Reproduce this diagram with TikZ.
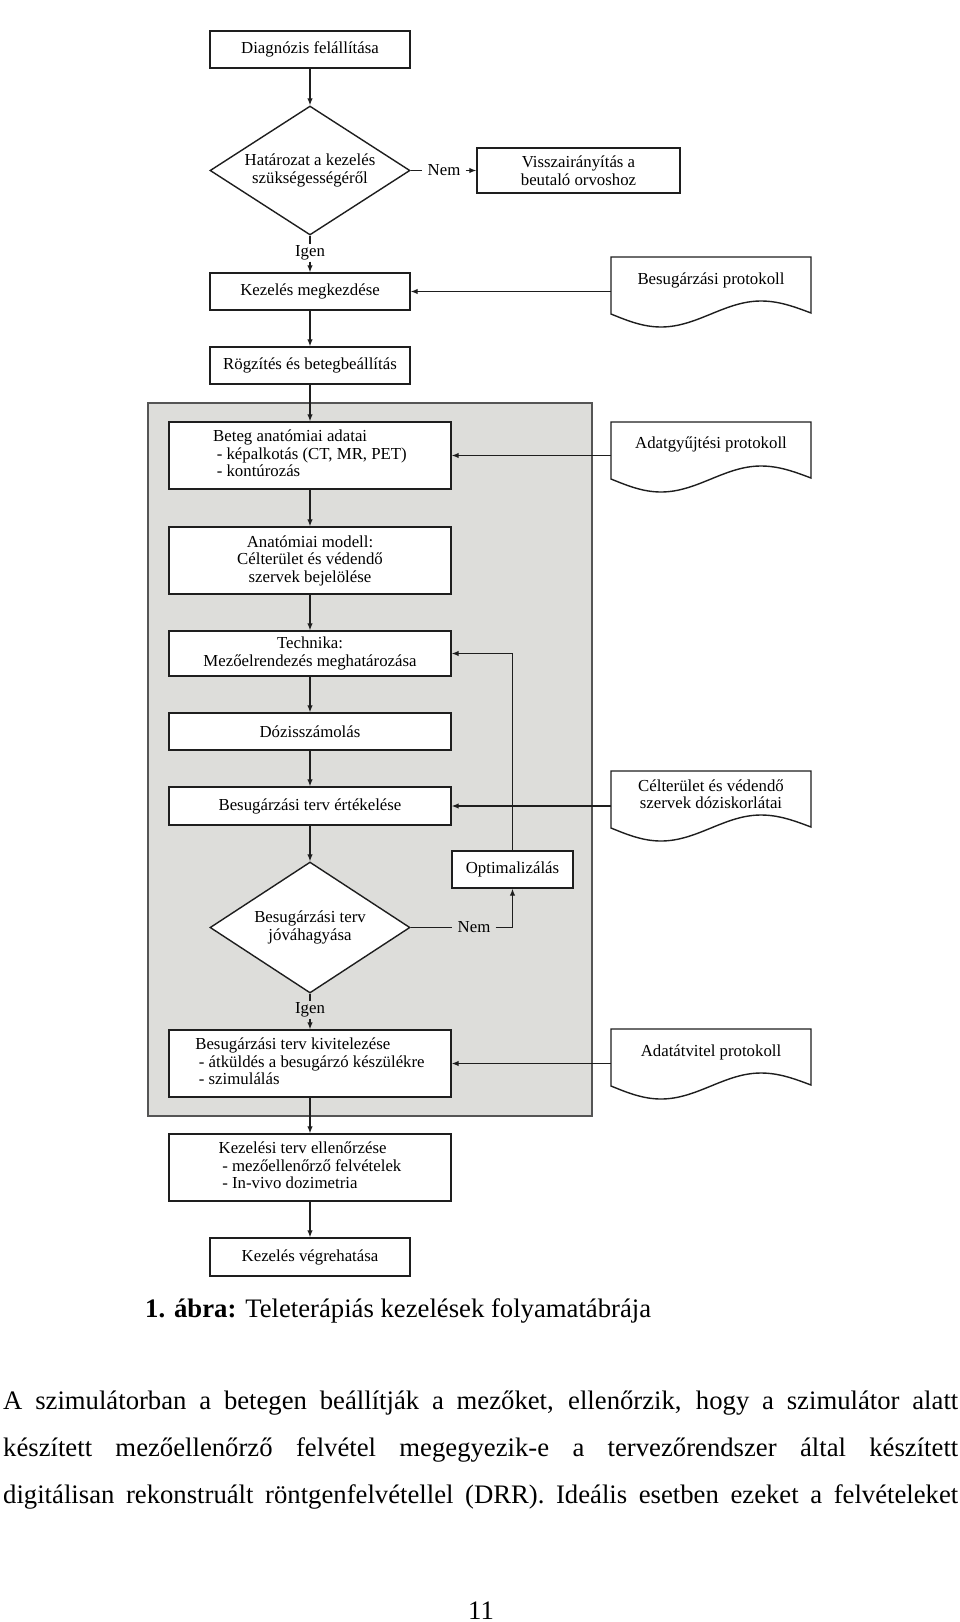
\documentclass[tikz,border=0pt]{standalone}
\usepackage{fontspec}
\setmainfont{Liberation Serif}
\usetikzlibrary{arrows.meta,shapes.geometric}
\newcommand\fcfont{\fontsize{16.8}{17.5}\selectfont}
\newcommand\bodyfont{\fontsize{26.7}{32}\selectfont}
\definecolor{panelgray}{RGB}{221,221,218}
\definecolor{panelline}{RGB}{85,85,85}
\definecolor{inkc}{RGB}{30,30,30}
\newcommand\docoutline[2]{%
  \draw[docline] (#1,#2) -- (#1,#2+57) sin ++(50,13) cos ++(50,-13) sin ++(50,-13) cos ++(50,12) -- (#1+200,#2) -- cycle;}
\begin{document}
\begin{tikzpicture}[x=1pt,y=-1pt,
  box/.style={draw=inkc, line width=1.4pt, fill=white, inner sep=0pt, font=\fcfont, align=center, text=black, minimum width=200pt, minimum height=37pt},
  wbox/.style={box, minimum width=282pt},
  dia/.style={box, shape=diamond, aspect=1.55, minimum width=200pt},
  lbl/.style={font=\fcfont, text=black, inner xsep=5pt, inner ysep=1pt},
  doctext/.style={font=\fcfont, text=black, align=center, inner sep=0pt},
  docline/.style={draw=inkc, line width=1.4pt, fill=white},
  arr/.style={-{Latex[length=7pt,width=5.5pt]}, line width=1.2pt, draw=inkc},
  ln/.style={line width=1.2pt, draw=inkc}]
\useasboundingbox (0,0) rectangle (960,1622);

% grey panel
\draw[fill=panelgray, draw=panelline, line width=1.8pt] (148,403) rectangle (592,1116);

% main column
\node[box] (diag) at (310,49.5) {Diagnózis felállítása};
\node[dia, minimum height=129pt] (d1) at (310,170.5) {Határozat a kezelés\\szükségességéről};
\node[lbl] (nem1) at (444,170.5) {Nem};
\node[box, minimum width=203pt, minimum height=45pt] (viss) at (578.5,170.5) {Visszairányítás a\\beutaló orvoshoz};
\node[lbl] (igen1) at (310,253) {Igen};
\node[box] (kez) at (310,291.5) {Kezelés megkezdése};
\node[box] (rog) at (310,365.5) {Rögzítés és betegbeállítás};
\node[wbox, minimum height=67pt] (beteg) at (310,455.5) {\begin{tabular}{@{}l@{}}Beteg anatómiai adatai\\\hspace{3.6pt}- képalkotás (CT, MR, PET)\\\hspace{3.6pt}- kontúrozás\end{tabular}};
\node[wbox, minimum height=67pt] (anat) at (310,560.5) {Anatómiai modell:\\Célterület és védendő\\szervek bejelölése};
\node[wbox, minimum height=45pt] (tech) at (310,653.5) {Technika:\\Mezőelrendezés meghatározása};
\node[wbox] (doz) at (310,731.5) {Dózisszámolás};
\node[wbox, minimum height=38pt] (ert) at (310,806) {Besugárzási terv értékelése};
\node[box, minimum width=121pt] (opt) at (512.5,869.5) {Optimalizálás};
\node[dia, minimum height=131pt] (d2) at (310,927.5) {Besugárzási terv\\jóváhagyása};
\node[lbl] (nem2) at (474,927.5) {Nem};
\node[lbl] (igen2) at (310,1010) {Igen};
\node[wbox, minimum height=67pt] (kiv) at (310,1063.5) {\begin{tabular}{@{}l@{}}Besugárzási terv kivitelezése\\\hspace{3.6pt}- átküldés a besugárzó készülékre\\\hspace{3.6pt}- szimulálás\end{tabular}};
\node[wbox, minimum height=67pt] (ell) at (310,1167.5) {\begin{tabular}{@{}l@{}}Kezelési terv ellenőrzése\\\hspace{3.6pt}- mezőellenőrző felvételek\\\hspace{3.6pt}- In-vivo dozimetria\end{tabular}};
\node[box, minimum height=38pt] (veg) at (310,1257) {Kezelés végrehatása};

% document shapes
\docoutline{611}{257}
\node[doctext] (p1) at (711,280) {Besugárzási protokoll};
\coordinate (p1L) at (611,291.5);
\docoutline{611}{422}
\node[doctext] (p2) at (711,444) {Adatgyűjtési protokoll};
\coordinate (p2L) at (611,455.5);
\docoutline{611}{771}
\node[doctext] (p3) at (711,794) {Célterület és védendő\\szervek dóziskorlátai};
\coordinate (p3L) at (611,806);
\docoutline{611}{1029}
\node[doctext] (p4) at (711,1052) {Adatátvitel protokoll};
\coordinate (p4L) at (611,1063.5);

% connectors
\draw[arr] (diag.south) -- (d1.north);
\draw[ln] (d1.east) -- (nem1.west);
\draw[arr] (nem1.east) -- (viss.west);
\draw[ln] (d1.south) -- (igen1.north);
\draw[arr] (igen1.south) -- (kez.north);
\draw[arr] (kez.south) -- (rog.north);
\draw[arr] (rog.south) -- (beteg.north);
\draw[arr] (beteg.south) -- (anat.north);
\draw[arr] (anat.south) -- (tech.north);
\draw[arr] (tech.south) -- (doz.north);
\draw[arr] (doz.south) -- (ert.north);
\draw[arr] (ert.south) -- (d2.north);
\draw[ln] (d2.east) -- (nem2.west);
\draw[arr] (nem2.east) -| (opt.south);
\draw[arr] (opt.north) |- (tech.east);
\draw[ln] (d2.south) -- (igen2.north);
\draw[arr] (igen2.south) -- (kiv.north);
\draw[arr] (kiv.south) -- (ell.north);
\draw[arr] (ell.south) -- (veg.north);
\draw[arr] (p1L) -- (kez.east);
\draw[arr] (p2L) -- (beteg.east);
\draw[arr] (p3L) -- (ert.east);
\draw[arr] (p4L) -- (kiv.east);

% caption and body text
\node[anchor=base west, inner sep=0pt, font=\bodyfont] (cap) at (145,1317) {\textbf{1. ábra:} Teleterápiás kezelések folyamatábrája};
\node[anchor=base west, inner sep=0pt, font=\bodyfont] (l1) at (3,1409) {\makebox[955pt][s]{A szimulátorban a betegen beállítják a mezőket, ellenőrzik, hogy a szimulátor alatt}};
\node[anchor=base west, inner sep=0pt, font=\bodyfont] (l2) at (3,1456.5) {\makebox[955pt][s]{készített mezőellenőrző felvétel megegyezik-e a tervezőrendszer által készített}};
\node[anchor=base west, inner sep=0pt, font=\bodyfont] (l3) at (3,1503) {\makebox[955pt][s]{digitálisan rekonstruált röntgenfelvétellel (DRR). Ideális esetben ezeket a felvételeket}};
\node[anchor=base, inner sep=0pt, font=\bodyfont] (pg) at (481,1619) {11};
\end{tikzpicture}
\end{document}
